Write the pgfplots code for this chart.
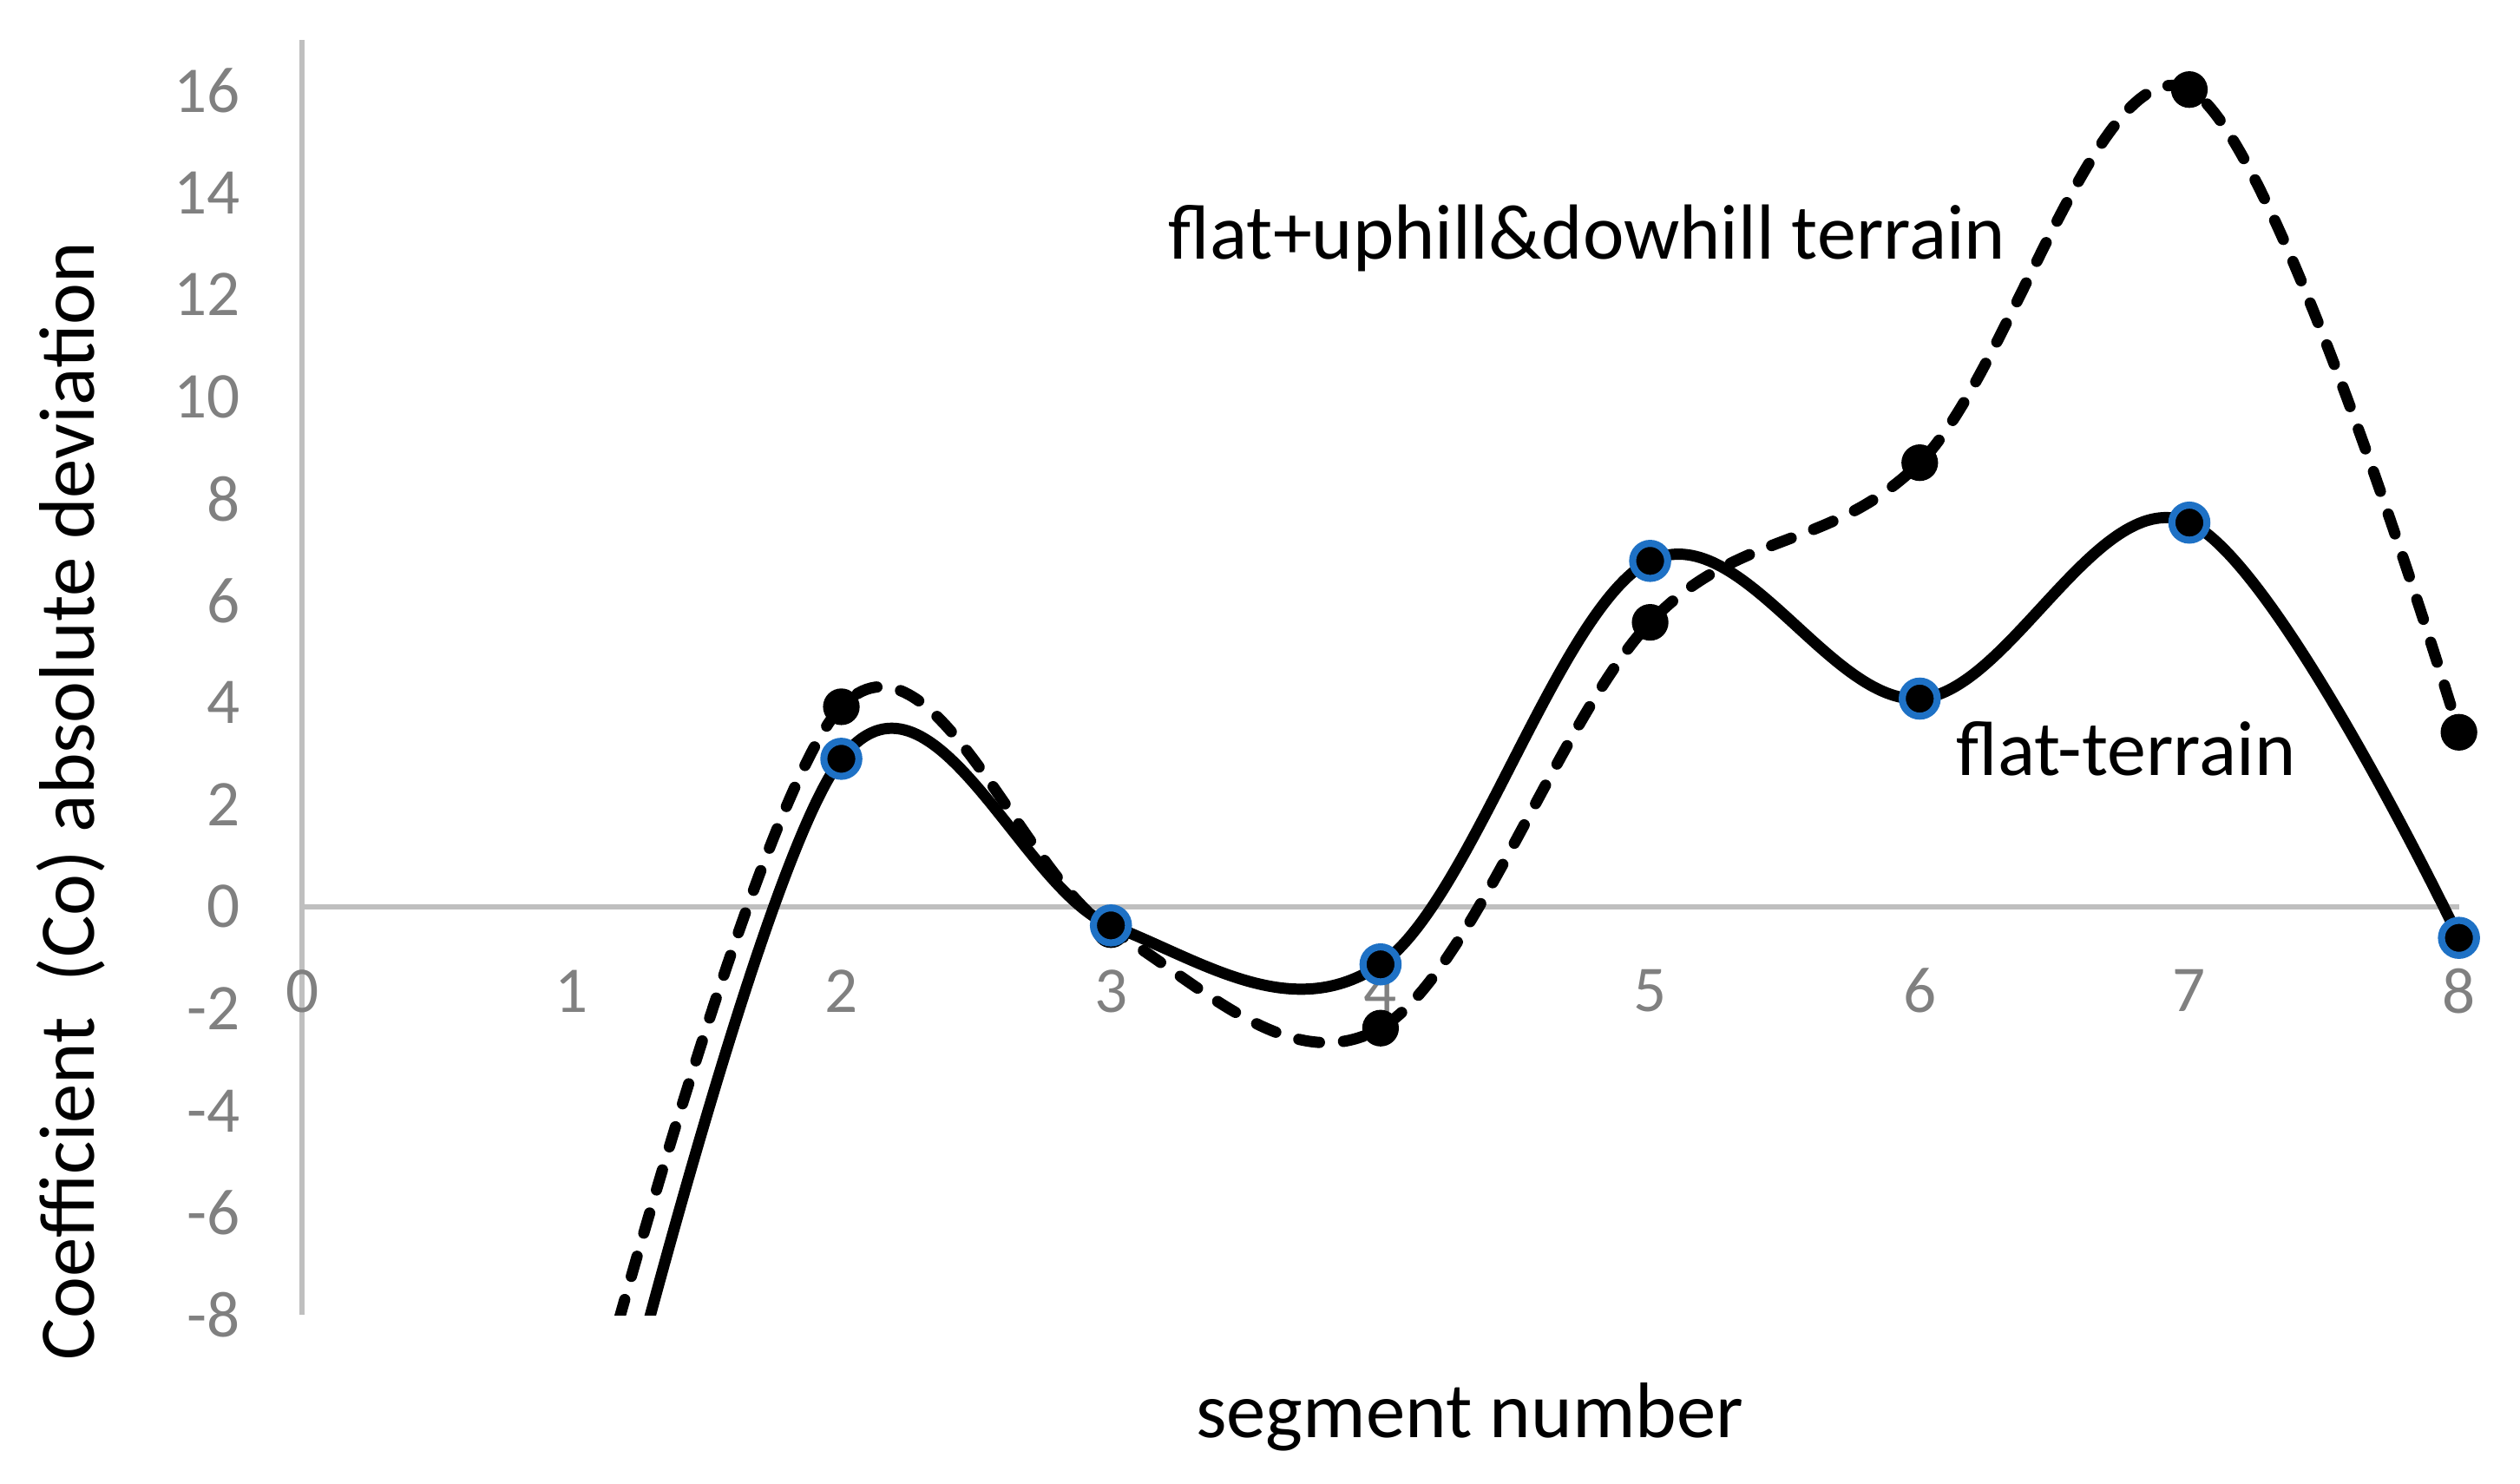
\documentclass[border=0pt]{standalone}
\usepackage{fontspec}
\setmainfont{Carlito}
\usepackage{pgfplots}
\pgfplotsset{compat=1.18}
\definecolor{axgray}{RGB}{191,191,191}
\definecolor{tkgray}{RGB}{128,128,128}
\definecolor{mkblue}{RGB}{30,113,197}
\begin{document}
\begin{tikzpicture}
\begin{axis}[
  scale only axis,
  width=671bp, height=396.7bp,
  xmin=0, xmax=8, ymin=-8, ymax=17,
  axis lines=middle,
  axis line style={axgray, line width=1.75bp, -},
  xtick={0,1,2,3,4,5,6,7,8},
  xticklabels={0,1,2,3,4,5,6,7,8},
  ytick={-8,-6,-4,-2,0,2,4,6,8,10,12,14,16},
  yticklabels={-8,-6,-4,-2,0,2,4,6,8,10,12,14,16},
  major tick length=0pt,
  hide obscured x ticks=false, hide obscured y ticks=false,
  tick label style={font=\fontsize{20.3bp}{24bp}\selectfont, text=tkgray, inner sep=0pt},
  xticklabel style={anchor=center, yshift=-26.2bp},
  yticklabel style={anchor=east, xshift=-19.1bp},
]
\addplot[black, line width=3.5bp, smooth, tension=0.6, dash pattern=on 6.5bp off 7.5bp, line cap=round,
  mark=*, mark indices={1,2,3,4,5,6,7}, mark size=5.2bp,
  mark options={solid, fill=black, draw=black, line width=1bp}]
  coordinates {(1,-11.5) (2,3.92) (3,-0.45) (4,-2.38) (5,5.575) (6,8.705) (7,16.02) (8,3.42)};
\addplot[black, line width=3.5bp, smooth, tension=0.6,
  mark=*, mark indices={1,2,3,4,5,6,7}, mark size=5.45bp,
  mark options={solid, fill=black, draw=mkblue, line width=2.2bp}]
  coordinates {(1,-14) (2,2.90) (3,-0.366) (4,-1.13) (5,6.78) (6,4.08) (7,7.53) (8,-0.61)};
\coordinate (bl) at (axis cs:-1.1207,-11.30);
\coordinate (tr) at (axis cs:8.2265,17.776);
\coordinate (ann1) at (axis cs:4.767,12.70);
\coordinate (ann2) at (axis cs:6.765,2.577);
\coordinate (xl) at (axis cs:4.331,-10.41);
\coordinate (yl) at (axis cs:-0.771,2.07);
\end{axis}
\node[anchor=base, font=\fontsize{24.3bp}{29bp}\selectfont, inner sep=0pt] at (ann1) {flat+uphill\&dowhill terrain};
\node[anchor=base, font=\fontsize{24.3bp}{29bp}\selectfont, inner sep=0pt] at (ann2) {flat-terrain};
\node[anchor=base, font=\fontsize{24.5bp}{29bp}\selectfont, inner sep=0pt] at (xl) {segment number};
\node[anchor=base, rotate=90, font=\fontsize{24.5bp}{29bp}\selectfont, inner sep=0pt] at (yl) {Coefficient\ \ (Co) absolute deviation};
\pgfresetboundingbox
\path[use as bounding box] (bl) rectangle (tr);
\end{tikzpicture}
\end{document}
